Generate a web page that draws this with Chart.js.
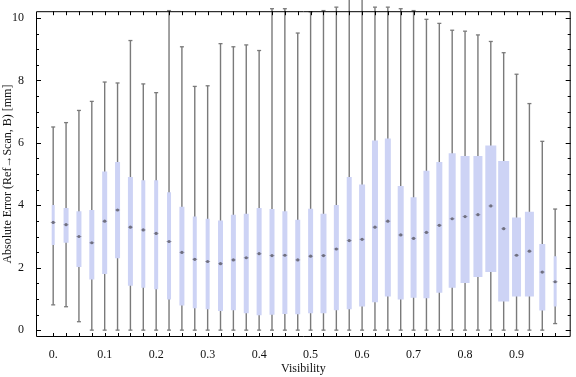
<!DOCTYPE html>
<html>
<head>
<meta charset="utf-8">
<script src="https://cdn.jsdelivr.net/npm/chart.js@4/dist/chart.umd.min.js"></script>
<style>
  html, body { margin: 0; padding: 0; background: #fff; }
</style>
</head>
<body>
<canvas id="boxChart" width="576" height="377"></canvas>
<script>
// data, one entry per visibility bin
const visibility = [0, 0.025, 0.05, 0.075, 0.1, 0.125, 0.15, 0.175, 0.2, 0.225,
                    0.25, 0.275, 0.3, 0.325, 0.35, 0.375, 0.4, 0.425, 0.45, 0.475,
                    0.5, 0.525, 0.55, 0.575, 0.6, 0.625, 0.65, 0.675, 0.7, 0.725,
                    0.75, 0.775, 0.8, 0.825, 0.85, 0.875, 0.9, 0.925, 0.95, 0.975];
const whiskerLow = [0.81, 0.75, 0.27, 0, 0, 0, 0, 0, 0, 0,
                    0, 0, 0, 0, 0, 0, 0, 0, 0, 0,
                    0, 0, 0, 0, 0, 0, 0, 0, 0, 0,
                    0, 0, 0, 0, 0, 0, 0, 0, 0, 0.21];
const quart1 = [2.73, 2.80, 2.02, 1.62, 1.80, 2.30, 1.42, 1.36, 1.31, 0.98,
                0.79, 0.70, 0.67, 0.61, 0.64, 0.54, 0.48, 0.49, 0.52, 0.51,
                0.54, 0.54, 0.64, 0.67, 0.76, 0.89, 1.08, 0.98, 1.04, 1.02,
                1.20, 1.36, 1.51, 1.70, 1.86, 0.92, 1.08, 1.08, 0.63, 0.76];
const median = [3.45, 3.38, 3.00, 2.80, 3.49, 3.85, 3.30, 3.21, 3.10, 2.84,
                2.49, 2.27, 2.20, 2.13, 2.25, 2.32, 2.45, 2.39, 2.40, 2.25,
                2.37, 2.39, 2.60, 2.87, 2.91, 3.30, 3.49, 3.05, 2.94, 3.13,
                3.36, 3.57, 3.64, 3.70, 3.98, 3.25, 2.40, 2.53, 1.86, 1.55];
const quart3 = [4.01, 3.91, 3.81, 3.85, 5.08, 5.39, 4.91, 4.80, 4.80, 4.42,
                3.95, 3.64, 3.57, 3.51, 3.70, 3.73, 3.91, 3.88, 3.81, 3.54,
                3.89, 3.73, 4.01, 4.91, 4.67, 6.08, 6.14, 4.62, 4.26, 5.11,
                5.39, 5.67, 5.58, 5.58, 5.92, 5.42, 3.61, 3.79, 2.76, 2.37];
const whiskerHigh = [6.51, 6.65, 7.04, 7.33, 7.95, 7.92, 9.28, 7.89, 7.61, 10.24,
                     9.08, 7.81, 7.83, 9.18, 9.08, 9.14, 8.96, 10.3, 10.3, 9.52,
                     10.2, 10.24, 10.35, 10.6, 10.6, 10.35, 10.35, 10.3, 10.24, 9.96,
                     9.83, 9.61, 9.58, 9.46, 9.25, 8.89, 8.20, 7.26, 6.05, 3.88];

const xTickValues = [0, 0.1, 0.2, 0.3, 0.4, 0.5, 0.6, 0.7, 0.8, 0.9];
const xTickLabels = ['0.', '0.1', '0.2', '0.3', '0.4', '0.5', '0.6', '0.7', '0.8', '0.9'];
const yTickValues = [0, 2, 4, 6, 8, 10];

// box widths in px (style, as drawn in the original)
const boxWidth = [3, 5, 5, 5, 5, 5, 5, 4, 4, 4,
                  5, 4, 4, 5, 5, 5, 5, 5, 5, 5,
                  5, 6, 5, 5, 6, 6, 6, 6, 6, 6,
                  6, 7, 9, 9, 11, 11, 9, 9, 6, 3];

const boxColor = '#cdd3f5';
const lineGrey = '#7a7a7a';
const font = { family: '"Liberation Serif", "DejaVu Serif", serif', size: 12 };

// one bar dataset per box width, so each box can keep its own thickness
const boxSets = [...new Set(boxWidth)].map(w => ({
  type: 'bar',
  data: visibility.map((v, i) => ({ x: v, y: [quart1[i], quart3[i]] }))
                  .filter((d, i) => boxWidth[i] === w),
  barThickness: w,
  grouped: false,
  inflateAmount: 0,
  borderWidth: 0,
  backgroundColor: boxColor,
  order: 3
}));

const whiskers = {
  type: 'bar',
  data: visibility.map((v, i) => ({ x: v, y: [whiskerLow[i], whiskerHigh[i]] })),
  barThickness: 1.4,
  grouped: false,
  inflateAmount: 0,
  borderWidth: 0,
  backgroundColor: lineGrey,
  clip: false,
  order: 4
};

const caps = {
  type: 'line',
  data: visibility.flatMap((v, i) => [{ x: v, y: whiskerLow[i] }, { x: v, y: whiskerHigh[i] }]),
  showLine: false,
  pointStyle: 'line',
  pointRadius: 2,
  pointBorderWidth: 1.3,
  pointBorderColor: lineGrey,
  clip: false,
  order: 2
};

const medianDash = {
  type: 'line',
  data: visibility.map((v, i) => ({ x: v, y: median[i] })),
  showLine: false,
  pointStyle: 'line',
  pointRadius: 2.5,
  pointBorderWidth: 1,
  pointBorderColor: 'rgba(120,120,140,0.55)',
  order: 1
};

const medianDot = {
  type: 'line',
  data: visibility.map((v, i) => ({ x: v, y: median[i] })),
  showLine: false,
  pointStyle: 'circle',
  pointRadius: 1.6,
  pointBorderWidth: 0,
  pointBackgroundColor: '#707080',
  order: 0
};

// Mathematica-like frame with inward ticks on all four sides
const frameTicks = {
  id: 'frameTicks',
  afterDraw(chart) {
    const { ctx, chartArea: a, scales } = chart;
    const x = scales.x, y = scales.y;
    ctx.save();
    ctx.strokeStyle = '#000';
    ctx.lineWidth = 1;
    ctx.beginPath();
    ctx.rect(a.left + 0.5, a.top + 0.5, a.right - a.left - 1, a.bottom - a.top - 1);
    visibility.forEach(v => {
      const px = Math.round(x.getPixelForValue(v)) + 0.5;
      ctx.moveTo(px, a.bottom);
      ctx.lineTo(px, a.bottom - 4);
      ctx.moveTo(px, a.top);
      ctx.lineTo(px, a.top + 4);
    });
    for (let k = 0; k <= 20; k++) {
      const v = k / 2;
      const py = Math.round(y.getPixelForValue(v)) + 0.5;
      const len = (k % 4 === 0) ? 5 : 3;
      ctx.moveTo(a.left, py);
      ctx.lineTo(a.left + len, py);
      ctx.moveTo(a.right, py);
      ctx.lineTo(a.right - len, py);
    }
    ctx.stroke();
    ctx.restore();
  }
};

const chart = new Chart(document.getElementById('boxChart'), {
  type: 'bar',
  data: { datasets: [medianDot, medianDash, caps, ...boxSets, whiskers] },
  options: {
    responsive: false,
    animation: false,
    events: [],
    layout: { padding: { top: 4, right: 2, left: 0, bottom: 0 } },
    plugins: { legend: { display: false }, tooltip: { enabled: false } },
    scales: {
      x: {
        type: 'linear',
        min: -0.0334,
        max: 1.0052,
        offset: false,
        grid: { display: false },
        border: { display: false },
        afterBuildTicks: s => { s.ticks = visibility.map(v => ({ value: v })); },
        ticks: {
          autoSkip: false,
          maxRotation: 0,
          padding: 3,
          font: font,
          color: '#111',
          callback: value => {
            const k = xTickValues.findIndex(t => Math.abs(t - value) < 1e-6);
            return k >= 0 ? xTickLabels[k] : '';
          }
        },
        title: { display: true, text: 'Visibility', font: font, color: '#111', padding: { top: 0, bottom: 1 } },
        afterFit: s => { s.height = 40; }
      },
      y: {
        min: -0.22,
        max: 10.22,
        grid: { display: false },
        border: { display: false },
        afterBuildTicks: s => { s.ticks = yTickValues.map(v => ({ value: v })); },
        ticks: { padding: 4, font: font, color: '#111' },
        title: { display: true, text: 'Absolute Error (Ref→Scan, B) [mm]', font: font, color: '#111', padding: { top: 1, bottom: 0 } },
        afterFit: s => { s.width = 36; }
      }
    }
  },
  plugins: [frameTicks]
});
</script>
</body>
</html>
